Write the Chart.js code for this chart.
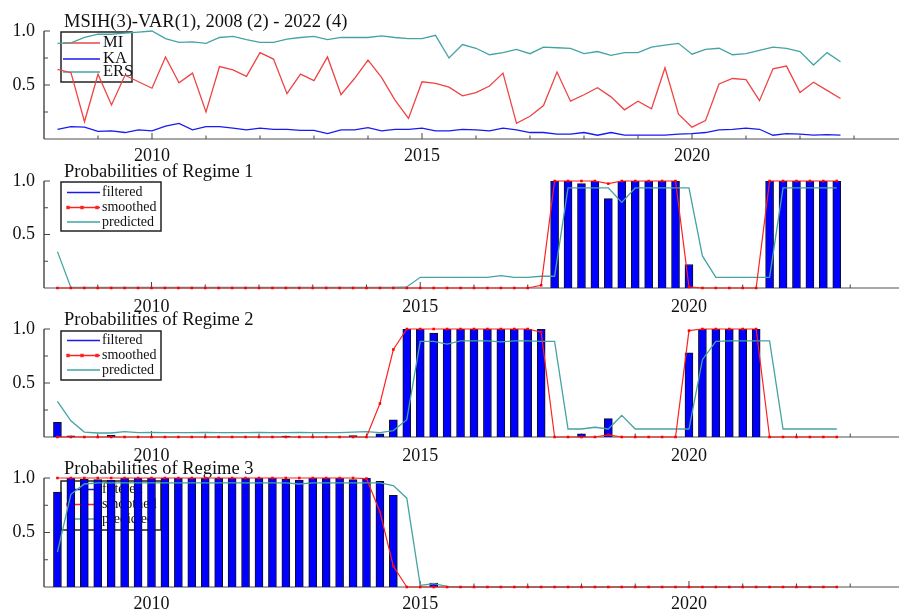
<!DOCTYPE html>
<html>
<head>
<meta charset="utf-8">
<script src="https://cdn.jsdelivr.net/npm/chart.js@4.4.1/dist/chart.umd.min.js"></script>
<style>
  body { margin: 0; background: #fff; width: 899px; height: 609px; position: relative; overflow: hidden; }
  canvas { position: absolute; left: 0; }
</style>
</head>
<body>
<canvas id="p1" width="899" height="164" style="top:0px"></canvas>
<canvas id="p2" width="899" height="163" style="top:150px"></canvas>
<canvas id="p3" width="899" height="164" style="top:298px"></canvas>
<canvas id="p4" width="899" height="162" style="top:447px"></canvas>
<script>
// quarters 2008(2) .. 2022(4)
const startYear = 2008, startQuarter = 2, nObs = 59;
const periods = [];
for (let i = 0; i < nObs; i++) {
  const q = startQuarter - 1 + i;
  periods.push(startYear + Math.floor(q / 4) + (q % 4) / 4);
}
const yearTicks = [2009, 2010, 2011, 2012, 2013, 2014, 2015, 2016, 2017, 2018, 2019, 2020, 2021, 2022, 2023];
const yearLabels = [2010, 2015, 2020];
const yTicks = [0.25, 0.5, 0.75, 1.0];
const yLabels = [0.5, 1.0];

// panel 1 : data series
const mi = [0.645,0.614,0.16,0.60,0.315,0.59,0.53,0.47,0.76,0.52,
  0.61,0.25,0.67,0.64,0.58,0.80,0.74,0.42,0.60,0.54,
  0.76,0.41,0.56,0.73,0.57,0.36,0.19,0.53,0.515,0.48,
  0.40,0.43,0.49,0.61,0.145,0.21,0.31,0.62,0.35,0.41,
  0.475,0.39,0.27,0.35,0.28,0.66,0.23,0.11,0.17,0.51,
  0.56,0.55,0.355,0.65,0.675,0.43,0.525,0.45,0.375];
const ka = [0.09,0.115,0.11,0.07,0.075,0.06,0.085,0.075,0.12,0.145,
  0.085,0.115,0.115,0.10,0.085,0.10,0.09,0.09,0.08,0.08,
  0.05,0.085,0.085,0.105,0.075,0.09,0.09,0.10,0.075,0.075,
  0.09,0.085,0.075,0.10,0.085,0.06,0.06,0.045,0.045,0.06,
  0.035,0.06,0.035,0.035,0.035,0.035,0.045,0.05,0.06,0.085,
  0.09,0.10,0.09,0.035,0.05,0.045,0.035,0.04,0.035];
const ers = [0.886,0.89,0.94,0.97,0.97,0.98,0.99,1.0,0.93,0.895,
  0.90,0.886,0.94,0.95,0.92,0.895,0.895,0.925,0.94,0.95,
  0.92,0.94,0.94,0.94,0.955,0.94,0.93,0.93,0.96,0.75,
  0.875,0.84,0.78,0.80,0.83,0.79,0.85,0.845,0.84,0.79,
  0.81,0.775,0.80,0.80,0.85,0.87,0.886,0.785,0.83,0.84,
  0.78,0.79,0.82,0.85,0.84,0.81,0.685,0.80,0.715];

// regime 1
const filt1 = [0,0,0,0,0,0,0,0,0,0, 0,0,0,0,0,0,0,0,0,0, 0,0,0,0,0,0,0,0,0,0,
  0,0,0,0,0,0,0,1.0,1.0,0.975, 1.0,0.835,1.0,1.0,1.0,1.0,1.0,0.22,0,0,
  0,0,0,1.0,1.0,1.0,1.0,1.0,1.0];
const smooth1 = [0,0,0,0,0,0,0,0,0,0, 0,0,0,0,0,0,0,0,0,0, 0,0,0,0,0,0,0,0,0,0,
  0,0,0,0,0,0,0.025,1.0,1.0,1.0, 1.0,0.975,1.0,1.0,1.0,1.0,1.0,0.01,0,0,
  0,0,0,1.0,1.0,1.0,1.0,1.0,1.0];
const pred1 = [0.34,0.005,0.005,0.005,0.005,0.005,0.005,0.005,0.005,0.005,
  0.005,0.005,0.005,0.005,0.005,0.005,0.005,0.005,0.005,0.005,
  0.005,0.005,0.005,0.005,0.005,0.005,0.01,0.10,0.10,0.10,
  0.10,0.10,0.10,0.115,0.10,0.10,0.11,0.11,0.935,0.935,
  0.935,0.935,0.80,0.935,0.935,0.935,0.935,0.935,0.30,0.10,
  0.10,0.10,0.10,0.10,0.935,0.935,0.935,0.935,0.935];

// regime 2
const filt2 = [0.135,0.01,0,0,0.015,0,0,0,0,0, 0,0,0,0,0,0,0,0.008,0,0,
  0,0,0.012,0,0.03,0.16,1.0,1.0,0.963,1.0, 1.0,1.0,1.0,1.0,1.0,1.0,1.0,0,0,0.03,
  0,0.17,0,0,0,0,0,0.78,1.0,1.0, 1.0,1.0,1.0,0,0,0,0,0,0];
const smooth2 = [0,0,0,0,0,0,0,0,0,0, 0,0,0,0,0,0,0,0,0,0,
  0,0,0,0,0.31,0.81,1.0,1.0,1.0,1.0, 1.0,1.0,1.0,1.0,1.0,1.0,0.97,0,0,0,
  0,0.02,0,0,0,0,0,0.985,1.0,1.0, 1.0,1.0,1.0,0,0,0,0,0,0];
const pred2 = [0.33,0.15,0.046,0.037,0.037,0.05,0.04,0.042,0.04,0.04,
  0.04,0.042,0.04,0.04,0.04,0.042,0.04,0.04,0.042,0.04,
  0.04,0.04,0.046,0.05,0.04,0.06,0.16,0.885,0.885,0.86,
  0.89,0.89,0.89,0.88,0.89,0.89,0.885,0.885,0.074,0.074,
  0.09,0.074,0.20,0.074,0.074,0.074,0.074,0.074,0.716,0.885,
  0.89,0.89,0.89,0.89,0.074,0.074,0.074,0.074,0.074];

// regime 3
const filt3 = [0.87,1.0,0.99,0.985,0.98,1.0,1.0,1.0,1.0,1.0,
  1.0,1.0,1.0,1.0,1.0,1.0,1.0,0.99,0.98,1.0,
  1.0,1.0,0.985,1.0,0.97,0.84,0,0,0.037,0,
  0,0,0,0,0,0,0,0,0,0, 0,0,0,0,0,0,0,0,0,0, 0,0,0,0,0,0,0,0,0];
const smooth3 = [1.0,1.0,1.0,1.0,1.0,1.0,1.0,1.0,1.0,1.0,
  1.0,1.0,1.0,1.0,1.0,1.0,1.0,1.0,1.0,1.0,
  1.0,1.0,1.0,0.995,0.69,0.19,0,0,0,0,
  0,0,0,0,0,0,0,0,0,0, 0,0,0,0,0,0,0,0,0,0, 0,0,0,0,0,0,0,0,0];
const pred3 = [0.32,0.85,0.945,0.955,0.955,0.955,0.955,0.955,0.955,0.955,
  0.955,0.955,0.955,0.955,0.955,0.955,0.955,0.955,0.945,0.955,
  0.955,0.955,0.955,0.955,0.955,0.93,0.815,0.015,0.03,0.006,
  0,0,0,0,0,0,0,0,0,0, 0,0,0,0,0,0,0,0,0,0, 0,0,0,0,0,0,0,0,0];

const RED = '#ee4444', BLUE = '#1a1af0', TEAL = '#45a3a3';
const SERIF = '"Liberation Serif", "Times New Roman", serif';

const pts = (arr, dropZero) => arr.map((v, i) => ({ x: periods[i], y: (dropZero && v === 0) ? null : v }));

// axes, labels, title and legend drawn under the data
const framePlugin = {
  id: 'frame',
  beforeDatasetsDraw(chart, args, o) {
    const ctx = chart.ctx, a = chart.chartArea;
    const xs = chart.scales.x, ys = chart.scales.y;
    ctx.save();
    // x axis
    ctx.strokeStyle = '#8a8a8a'; ctx.lineWidth = 1.6;
    ctx.beginPath(); ctx.moveTo(a.left, a.bottom); ctx.lineTo(chart.width, a.bottom); ctx.stroke();
    // y axis
    ctx.strokeStyle = '#444'; ctx.lineWidth = 1.4;
    ctx.beginPath(); ctx.moveTo(a.left, ys.getPixelForValue(1)); ctx.lineTo(a.left, a.bottom); ctx.stroke();
    ctx.lineWidth = 1;
    yTicks.forEach(v => {
      const y = ys.getPixelForValue(v), len = yLabels.includes(v) ? 6 : 4;
      ctx.beginPath(); ctx.moveTo(a.left, y); ctx.lineTo(a.left + len, y); ctx.stroke();
    });
    yearTicks.forEach(v => {
      const x = xs.getPixelForValue(v), len = yearLabels.includes(v) ? 6 : 3.5;
      ctx.beginPath(); ctx.moveTo(x, a.bottom); ctx.lineTo(x, a.bottom - len); ctx.stroke();
    });
    // tick labels
    ctx.fillStyle = '#111';
    ctx.font = '18px ' + SERIF;
    ctx.textAlign = 'right'; ctx.textBaseline = 'middle';
    yLabels.forEach(v => ctx.fillText(v.toFixed(1), 35, ys.getPixelForValue(v)));
    ctx.textAlign = 'center'; ctx.textBaseline = 'top';
    yearLabels.forEach(v => ctx.fillText(String(v), xs.getPixelForValue(v), a.bottom + o.labelGap));
    // title
    ctx.font = '18.5px ' + SERIF;
    ctx.textAlign = 'left'; ctx.textBaseline = 'alphabetic';
    ctx.fillText(o.title, 64, a.top - 4.5);
    // legend
    const lg = o.legend;
    ctx.strokeStyle = '#222'; ctx.lineWidth = 1.5;
    ctx.strokeRect(lg.x, a.top + lg.dy, lg.w, lg.h);
    ctx.font = lg.size + 'px ' + SERIF;
    ctx.textBaseline = 'middle';
    lg.items.forEach((it, i) => {
      const y = a.top + lg.rows[i];
      ctx.strokeStyle = it.color; ctx.lineWidth = 1.3;
      ctx.beginPath(); ctx.moveTo(lg.x + lg.l0, y); ctx.lineTo(lg.x + 39, y); ctx.stroke();
      if (it.dots) {
        ctx.fillStyle = it.color;
        [7, 21, 36].forEach(dx => ctx.fillRect(lg.x + dx - 1.7, y - 1.7, 3.4, 3.4));
      }
      ctx.fillStyle = '#111';
      ctx.fillText(it.label, lg.x + lg.tx, y);
    });
    ctx.restore();
  }
};

function lineSet(arr, color, order) {
  return { type: 'line', data: pts(arr), borderColor: color, borderWidth: 1.3, pointRadius: 0,
    tension: 0, clip: false, order: order };
}
function smoothSet(arr) {
  return { type: 'line', data: pts(arr), borderColor: '#ff2020', borderWidth: 1.2,
    pointStyle: 'rect', pointRadius: 1.8, pointBackgroundColor: '#ff0000', pointBorderWidth: 0,
    tension: 0, clip: false, order: 1 };
}
function barSet(arr) {
  return { type: 'bar', data: pts(arr, true), backgroundColor: '#0000ff', borderColor: '#111',
    borderWidth: 1, barThickness: 8, order: 3 };
}

function makePanel(id, datasets, title, legend, padBottom, labelGap) {
  return new Chart(document.getElementById(id), {
    type: 'line',
    data: { datasets: datasets },
    options: {
      responsive: false,
      animation: false,
      events: [],
      layout: { padding: { left: 44, right: 0, top: 31, bottom: padBottom } },
      scales: {
        x: { type: 'linear', min: 2008, max: 2008 + 855 / 54, offset: false, display: false },
        y: { type: 'linear', min: 0, max: 1, display: false }
      },
      plugins: {
        legend: { display: false },
        title: { display: false },
        tooltip: { enabled: false },
        frame: { title: title, legend: legend, labelGap: labelGap }
      }
    },
    plugins: [framePlugin]
  });
}

const regimeLegend = (dy) => ({
  x: 61, dy: dy, w: 100, h: 49, rows: [11.5, 26.5, 41], size: 14, l0: 6, tx: 41,
  items: [
    { label: 'filtered', color: BLUE },
    { label: 'smoothed', color: '#ff2020', dots: true },
    { label: 'predicted', color: TEAL }
  ]
});

makePanel('p1', [lineSet(mi, RED, 2), lineSet(ka, BLUE, 2), lineSet(ers, TEAL, 2)],
  'MSIH(3)-VAR(1), 2008 (2) - 2022 (4)',
  { x: 61, dy: 1, w: 71, h: 50, rows: [12, 28, 41], size: 16.5, l0: 2, tx: 42,
    items: [{ label: 'MI', color: RED }, { label: 'KA', color: BLUE }, { label: 'ERS', color: TEAL }] },
  25, 8);

makePanel('p2', [barSet(filt1), lineSet(pred1, TEAL, 2), smoothSet(smooth1)],
  'Probabilities of Regime 1', regimeLegend(1), 25, 10);

makePanel('p3', [barSet(filt2), lineSet(pred2, TEAL, 2), smoothSet(smooth2)],
  'Probabilities of Regime 2', regimeLegend(2), 25, 10);

makePanel('p4', [barSet(filt3), lineSet(pred3, TEAL, 2), smoothSet(smooth3)],
  'Probabilities of Regime 3', regimeLegend(3), 22, 8);
</script>
</body>
</html>
